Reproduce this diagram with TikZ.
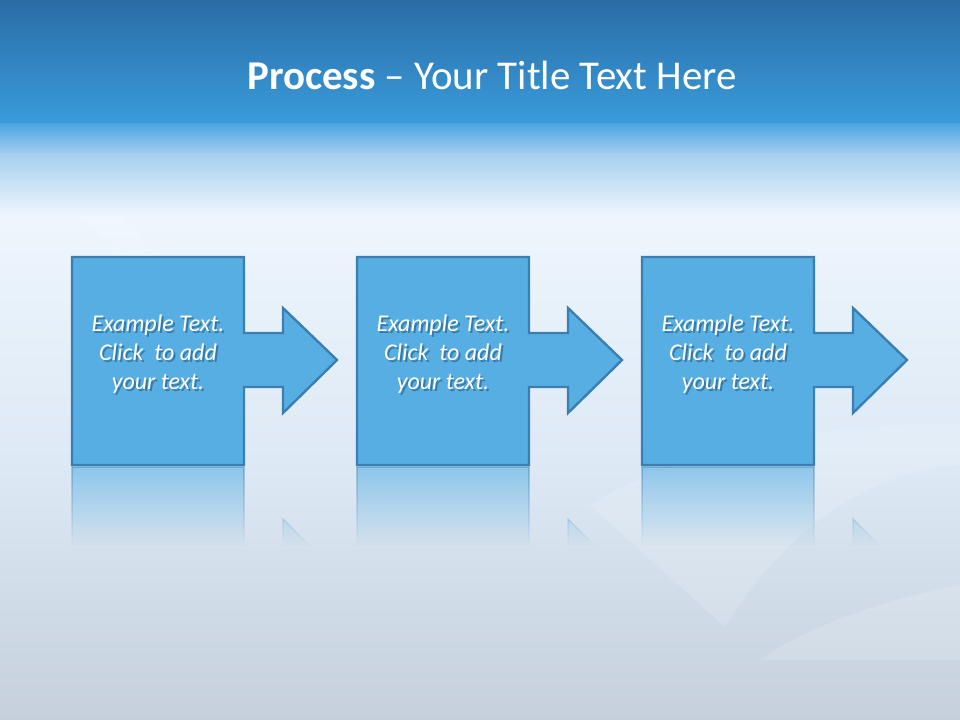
\documentclass[tikz,border=0pt]{standalone}
\usepackage{fontspec}
\setmainfont{Carlito}
\usetikzlibrary{fadings}
\definecolor{headtop}{HTML}{2A6DA5}
\definecolor{headbot}{HTML}{3A9CDC}
\definecolor{headfade}{HTML}{4DA6E2}
\definecolor{bgfade}{HTML}{A7CFEE}
\definecolor{bglight}{HTML}{EEF6FD}
\definecolor{bgmid}{HTML}{DDE9F5}
\definecolor{bggrey}{HTML}{C5D0DC}
\definecolor{boxfill}{HTML}{56AEE3}
\definecolor{boxline}{HTML}{3B7EB2}
\definecolor{textshade}{HTML}{23557F}
\tikzfading[name=reflectfade, top color=transparent!40, bottom color=transparent!100]
\tikzset{
  stepshape/.style={fill=boxfill, draw=boxline, line width=1.8pt, line join=miter},
  reflshape/.style={fill=boxfill, draw=boxline, line width=1pt, path fading=reflectfade},
  steptext/.style={text=white, font=\fontsize{18}{21.6}\selectfont\itshape, align=center},
  shadetext/.style={steptext, text=textshade, opacity=0.6},
  titletext/.style={text=white, font=\fontsize{30.7}{36}\selectfont},
  swoosh/.style={fill=white, opacity=0.15}
}
\begin{document}
\begin{tikzpicture}[x=0.75pt, y=-0.75pt]
  \useasboundingbox (0,0) rectangle (960,720);
  % pozadi
  \fill[top color=bglight, bottom color=bgmid] (0,215) rectangle (960,461);
  \fill[top color=bgmid, bottom color=bggrey] (0,460) rectangle (960,720);
  \fill[swoosh] (0,150) .. controls (90,170) and (150,230) .. (180,300) -- (150,300) .. controls (120,240) and (70,200) .. (0,190) -- cycle;
  \fill[swoosh] (960,425) .. controls (800,420) and (660,460) .. (590,505) -- (725,627) .. controls (790,520) and (880,470) .. (960,465) -- cycle;
  \fill[swoosh] (960,585) .. controls (880,600) and (800,630) .. (760,660) -- (960,660) -- cycle;
  % zahlavi
  \fill[top color=headtop, bottom color=headbot] (0,0) rectangle (960,125);
  \fill[top color=headfade, bottom color=bgfade] (0,124) rectangle (960,155);
  \fill[top color=bgfade, bottom color=bglight] (0,154) rectangle (960,216);
  \node[titletext] (title) at (492,75) {\textbf{Process} – Your Title Text Here};
  % tri kroky se sipkou
  \foreach \i [evaluate=\i as \x using 72+285*\i] in {0,1,2}{
    \path[reflshape] (\x,467) -- ++(172,0) -- ++(0,78) -- ++(-172,0) -- cycle
      ({\x+211},519) -- ({\x+211},545) -- ({\x+237},545) -- cycle;
    \draw[stepshape] (\x,257) -- ++(172,0) -- ++(0,76) -- ++(39,0) -- ++(0,-25)
      -- ++(54,52) -- ++(-54,53) -- ++(0,-26) -- ++(-39,0) -- ++(0,78) -- ++(-172,0) -- cycle;
    \node[shadetext] (stepshade\i) at ({\x+88},356) {Example Text.\\Click~ to add\\your text.};
    \node[steptext] (step\i) at ({\x+86},354) {Example Text.\\Click~ to add\\your text.};
  }
\end{tikzpicture}
\end{document}
